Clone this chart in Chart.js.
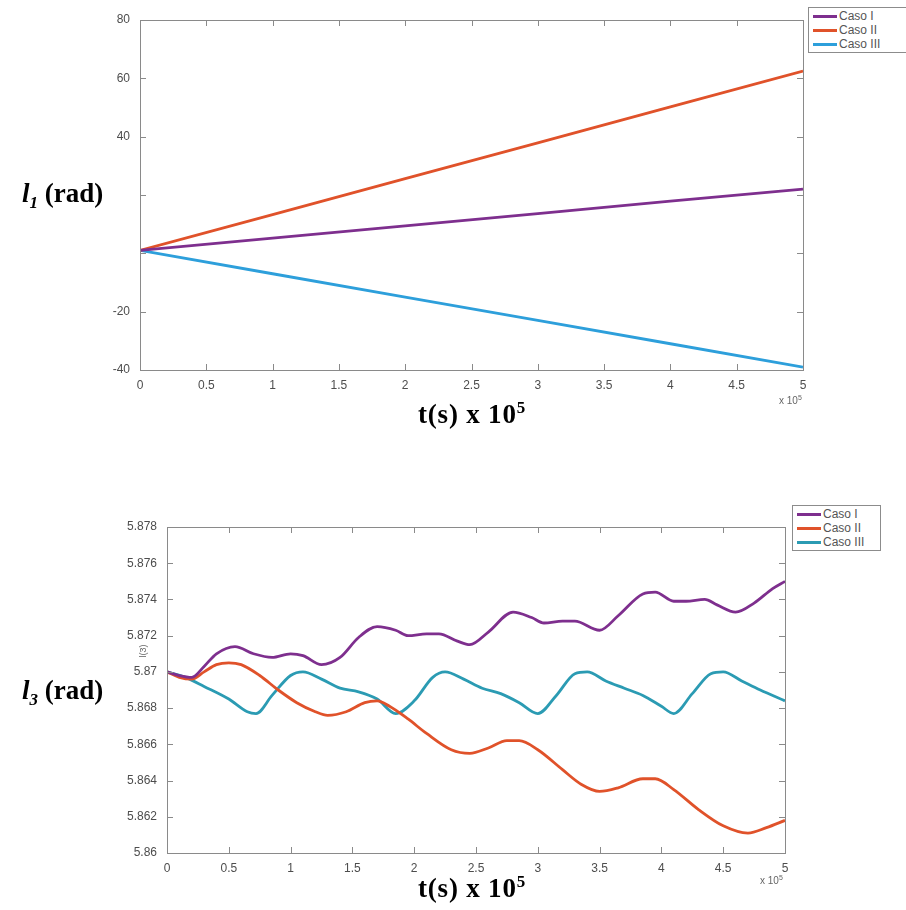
<!DOCTYPE html>
<html>
<head>
<meta charset="utf-8">
<script src="https://cdn.jsdelivr.net/npm/chart.js@4.4.0/dist/chart.umd.min.js"></script>
<style>
  body { margin: 0; background: #fff; width: 906px; height: 910px; overflow: hidden; position: relative; font-family: "Liberation Sans", Arial, sans-serif; }
  .box { position: absolute; }
  .ylab { position: absolute; font-family: "Liberation Serif", "Times New Roman", serif; font-weight: bold; font-size: 27px; line-height: 30px; color: #000; white-space: nowrap; }
  .ylab sub { font-size: 17px; font-style: italic; }
  .xlab { position: absolute; font-family: "Liberation Serif", "Times New Roman", serif; font-weight: bold; font-size: 27px; line-height: 30px; color: #000; white-space: nowrap; letter-spacing: 0.8px; }
  .xlab sup { font-size: 17px; }
  .mult { position: absolute; font-size: 10px; color: #666; white-space: nowrap; }
  .mult sup { font-size: 7px; }
  .legend { position: absolute; border: 1px solid #8c8c8c; background: #fff; padding: 1px 4px; font-size: 12px; color: #555; }
  .legend div { height: 14px; line-height: 14px; white-space: nowrap; }
  .legend span.ln { display: inline-block; width: 24px; height: 3px; vertical-align: middle; margin-right: 2px; }
</style>
</head>
<body>

<div class="box" style="left:0; top:0; width:820px; height:400px;"><canvas id="chartL1"></canvas></div>
<div class="box" style="left:0; top:480px; width:800px; height:403px;"><canvas id="chartL3"></canvas></div>

<div class="ylab" style="left:22px; top:178px;"><i>l</i><sub>1</sub> (rad)</div>
<div class="xlab" style="left:418px; top:393px;">t(s) x 10<sup>5</sup></div>
<div class="mult" style="left:779px; top:394px;">x 10<sup>5</sup></div>
<div class="legend" id="legendL1" style="left:808px; top:7px; width:110px;"></div>

<div class="ylab" style="left:22px; top:675px;"><i>l</i><sub>3</sub> (rad)</div>
<div class="xlab" style="left:418px; top:867px;">t(s) x 10<sup>5</sup></div>
<div class="mult" style="left:760px; top:874px;">x 10<sup>5</sup></div>
<div class="mult" style="left:136px; top:646px; transform:rotate(-90deg); font-size:9px;">l(3)</div>
<div class="legend" id="legendL3" style="left:792px; top:505px; width:79px;"></div>

<script>
// series labels and colours
const casos = ['Caso I', 'Caso II', 'Caso III'];
const coloresL1 = ['#7e2f8e', '#e0522a', '#2d9fdb'];
const coloresL3 = ['#7e2f8e', '#e0522a', '#2b9bb3'];

// top chart: l1 (rad) vs t (x 1e5 s)
const tL1 = [0, 1, 2, 3, 4, 5];
const l1CasoI = [1, 5.2, 9.4, 13.6, 17.9, 22];
const l1CasoII = [1, 13.3, 25.6, 37.9, 50.2, 62.5];
const l1CasoIII = [1, -7, -15, -23, -31, -39];

// bottom chart: l3 (rad) vs t (x 1e5 s)
const tL3CasoI = [0, 0.1, 0.2, 0.3, 0.4, 0.55, 0.7, 0.85, 1.0, 1.1, 1.25, 1.4, 1.55, 1.7, 1.85, 1.95, 2.1, 2.2, 2.35, 2.45, 2.6, 2.8, 2.95, 3.05, 3.2, 3.3, 3.5, 3.65, 3.85, 3.95, 4.1, 4.2, 4.35, 4.45, 4.6, 4.75, 4.9, 5.0];
const l3CasoI = [5.8700, 5.8698, 5.8697, 5.8703, 5.8710, 5.8714, 5.8710, 5.8708, 5.8710, 5.8709, 5.8704, 5.8708, 5.8719, 5.8725, 5.8723, 5.8720, 5.8721, 5.8721, 5.8717, 5.8715, 5.8722, 5.8733, 5.8730, 5.8727, 5.8728, 5.8728, 5.8723, 5.8731, 5.8743, 5.8744, 5.8739, 5.8739, 5.8740, 5.8737, 5.8733, 5.8738, 5.8746, 5.8750];

const tL3CasoII = [0, 0.1, 0.2, 0.3, 0.4, 0.5, 0.6, 0.75, 0.9, 1.05, 1.2, 1.3, 1.45, 1.6, 1.7, 1.8, 1.95, 2.1, 2.3, 2.45, 2.6, 2.75, 2.85, 3.0, 3.2, 3.35, 3.5, 3.65, 3.85, 3.95, 4.1, 4.3, 4.5, 4.7, 4.85, 5.0];
const l3CasoII = [5.8700, 5.8697, 5.8696, 5.8700, 5.8704, 5.8705, 5.8704, 5.8698, 5.8690, 5.8683, 5.8678, 5.8676, 5.8678, 5.8683, 5.8684, 5.8681, 5.8674, 5.8666, 5.8657, 5.8655, 5.8658, 5.8662, 5.8662, 5.8657, 5.8646, 5.8638, 5.8634, 5.8636, 5.8641, 5.8641, 5.8635, 5.8624, 5.8615, 5.8611, 5.8614, 5.8618];

const tL3CasoIII = [0, 0.15, 0.3, 0.5, 0.65, 0.72, 0.85, 1.0, 1.1, 1.25, 1.4, 1.55, 1.7, 1.85, 2.0, 2.15, 2.25, 2.4, 2.55, 2.7, 2.85, 3.0, 3.15, 3.3, 3.4, 3.55, 3.7, 3.85, 4.0, 4.1, 4.25, 4.4, 4.5, 4.65, 4.8, 5.0];
const l3CasoIII = [5.8700, 5.8697, 5.8692, 5.8685, 5.8678, 5.8677, 5.8687, 5.8698, 5.8700, 5.8696, 5.8691, 5.8689, 5.8685, 5.8677, 5.8684, 5.8697, 5.8700, 5.8696, 5.8691, 5.8688, 5.8683, 5.8677, 5.8687, 5.8699, 5.8700, 5.8695, 5.8691, 5.8687, 5.8681, 5.8677, 5.8688, 5.8699, 5.8700, 5.8695, 5.8690, 5.8684];

function pts(xs, ys) {
    return xs.map((x, i) => ({ x: x, y: ys[i] }));
}

// matlab style box with inward ticks on all four sides
const matlabBox = {
    id: 'matlabBox',
    afterDraw(chart) {
        const { ctx, chartArea: a, scales } = chart;
        ctx.save();
        ctx.strokeStyle = '#8a8a8a';
        ctx.lineWidth = 1;
        ctx.strokeRect(a.left + 0.5, a.top + 0.5, a.right - a.left, a.bottom - a.top);
        ctx.beginPath();
        scales.x.ticks.forEach(t => {
            const px = Math.round(scales.x.getPixelForValue(t.value)) + 0.5;
            ctx.moveTo(px, a.bottom); ctx.lineTo(px, a.bottom - 6);
            ctx.moveTo(px, a.top); ctx.lineTo(px, a.top + 6);
        });
        scales.y.ticks.forEach(t => {
            const py = Math.round(scales.y.getPixelForValue(t.value)) + 0.5;
            ctx.moveTo(a.left, py); ctx.lineTo(a.left + 6, py);
            ctx.moveTo(a.right, py); ctx.lineTo(a.right - 6, py);
        });
        ctx.stroke();
        ctx.restore();
    }
};

const tickFont = { family: 'Liberation Sans', size: 12 };

function makeChart(id, datasets, yOpts, yWidth, padding, smooth) {
    const ctx = document.getElementById(id).getContext('2d');
    return new Chart(ctx, {
        type: 'line',
        data: { datasets: datasets.map(d => ({
            label: d.label,
            data: d.data,
            borderColor: d.color,
            borderWidth: 2.8,
            pointRadius: 0,
            fill: false,
            cubicInterpolationMode: smooth ? 'monotone' : 'default',
            tension: smooth ? 0.4 : 0
        })) },
        options: {
            responsive: true,
            maintainAspectRatio: false,
            animation: false,
            layout: { padding: padding },
            plugins: { legend: { display: false }, tooltip: { enabled: false } },
            scales: {
                x: {
                    type: 'linear',
                    min: 0, max: 5,
                    grid: { display: false },
                    border: { display: false },
                    ticks: { stepSize: 0.5, maxRotation: 0, color: '#4d4d4d', padding: 0,
                             font: tickFont, callback: v => String(v) },
                    afterFit(scale) { scale.height = 30; }
                },
                y: Object.assign({
                    grid: { display: false },
                    border: { display: false },
                    afterFit(scale) { scale.width = yWidth; }
                }, yOpts)
            }
        },
        plugins: [matlabBox]
    });
}

function buildLegend(id, colores) {
    const el = document.getElementById(id);
    casos.forEach((c, i) => {
        const row = document.createElement('div');
        row.innerHTML = '<span class="ln" style="background:' + colores[i] + '"></span>' + c;
        el.appendChild(row);
    });
}

makeChart('chartL1', [
    { label: casos[0], data: pts(tL1, l1CasoI), color: coloresL1[0] },
    { label: casos[1], data: pts(tL1, l1CasoII), color: coloresL1[1] },
    { label: casos[2], data: pts(tL1, l1CasoIII), color: coloresL1[2] }
], {
    min: -40, max: 80,
    ticks: { stepSize: 20, color: '#4d4d4d', padding: 2, font: tickFont,
             // 20 and 0 are covered by the l1 label in the original figure
             callback: v => (v === 20 || v === 0) ? '' : String(v) }
}, 140, { top: 20, right: 17, left: 0, bottom: 0 }, false);

makeChart('chartL3', [
    { label: casos[0], data: pts(tL3CasoI, l3CasoI), color: coloresL3[0] },
    { label: casos[1], data: pts(tL3CasoII, l3CasoII), color: coloresL3[1] },
    { label: casos[2], data: pts(tL3CasoIII, l3CasoIII), color: coloresL3[2] }
], {
    min: 5.86, max: 5.878,
    ticks: { stepSize: 0.002, color: '#4d4d4d', padding: 2, font: tickFont,
             callback: v => String(parseFloat(v.toFixed(3))) }
}, 167, { top: 47, right: 15, left: 0, bottom: 0 }, true);

buildLegend('legendL1', coloresL1);
buildLegend('legendL3', coloresL3);
</script>
</body>
</html>
